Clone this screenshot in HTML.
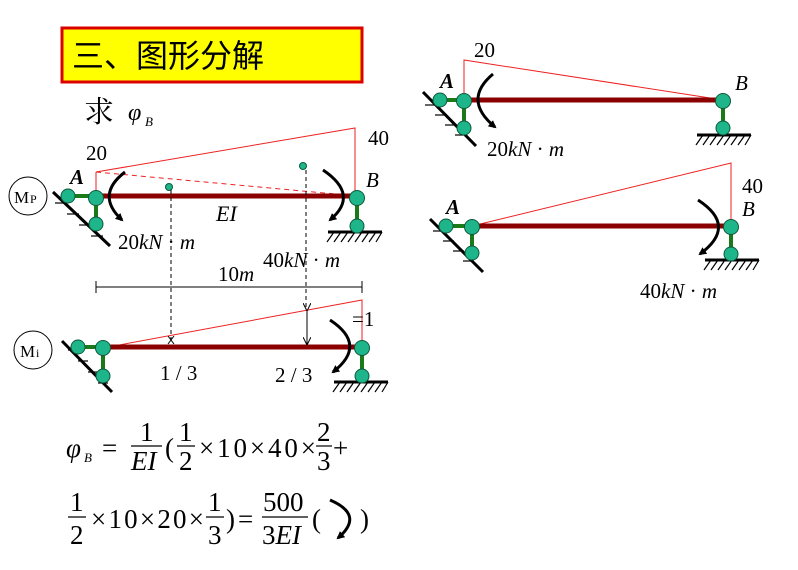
<!DOCTYPE html>
<html><head><meta charset="utf-8"><style>
html,body{margin:0;padding:0;background:#fff;}
svg{display:block;}
text{font-family:"Liberation Serif","Noto Serif CJK SC",serif;fill:#000;}
</style></head><body>
<svg width="798" height="570" viewBox="0 0 798 570" xmlns="http://www.w3.org/2000/svg">
<defs>
<marker id="ah" markerWidth="8" markerHeight="8" refX="6" refY="4" orient="auto" markerUnits="userSpaceOnUse"><path d="M0,0 L8,4 L0,8 Z" fill="#000"/></marker>
<marker id="sa" markerWidth="8" markerHeight="8" refX="7" refY="4" orient="auto" markerUnits="userSpaceOnUse"><path d="M0,0 L8,4 L0,8" fill="none" stroke="#000" stroke-width="1"/></marker>
</defs>
<!-- title -->
<rect x="62" y="28" width="300" height="54" fill="#ffff00" stroke="#d00" stroke-width="3"/>
<text x="72" y="67" font-size="32" style="font-family:'Noto Sans CJK SC',sans-serif">三、图形分解</text>
<text x="84" y="122" font-size="30" style="font-family:'Noto Serif CJK SC',serif">求</text>
<text x="128" y="120" font-size="24" font-style="italic">φ</text><text x="145" y="126" font-size="13" font-style="italic">B</text>

<!-- MP diagram -->
<circle cx="28" cy="196" r="19" fill="none" stroke="#000" stroke-width="1"/>
<text x="14" y="203" font-size="17">M</text><text x="30" y="203" font-size="12">P</text>
<polyline points="96,172 355,128 355,196" fill="none" stroke="#e22" stroke-width="1"/>
<line x1="96" y1="196" x2="96" y2="172" stroke="#e22" stroke-width="1"/>
<line x1="96" y1="172" x2="357" y2="196" stroke="#e22" stroke-width="1" stroke-dasharray="5,4"/>
<line x1="53" y1="192" x2="110" y2="246" stroke="#000" stroke-width="3"/>
<g stroke="#000" stroke-width="1.2"><line x1="55" y1="203" x2="67" y2="203"/><line x1="67" y1="214" x2="79" y2="214"/><line x1="79" y1="225" x2="91" y2="225"/><line x1="91" y1="236" x2="103" y2="236"/></g>
<line x1="68" y1="196" x2="96" y2="196" stroke="#1a7a1a" stroke-width="4"/>
<line x1="96" y1="196" x2="96" y2="224" stroke="#1a7a1a" stroke-width="4"/>
<line x1="96" y1="196" x2="357" y2="196" stroke="#8b0000" stroke-width="5"/>
<line x1="357" y1="196" x2="357" y2="224" stroke="#1a7a1a" stroke-width="4"/>
<line x1="328" y1="232" x2="382" y2="232" stroke="#000" stroke-width="3"/>
<g stroke="#000" stroke-width="1.2"><line x1="334" y1="232" x2="327" y2="242"/><line x1="341" y1="232" x2="334" y2="242"/><line x1="348" y1="232" x2="341" y2="242"/><line x1="355" y1="232" x2="348" y2="242"/><line x1="362" y1="232" x2="355" y2="242"/><line x1="369" y1="232" x2="362" y2="242"/><line x1="376" y1="232" x2="369" y2="242"/><line x1="382" y1="232" x2="376" y2="242"/></g>
<g fill="#1fb58a" stroke="#0a5a3a" stroke-width="1"><circle cx="68" cy="196" r="7"/><circle cx="96" cy="198" r="7.5"/><circle cx="96" cy="224" r="7"/><circle cx="357" cy="198" r="7.5"/><circle cx="357" cy="226" r="7"/><circle cx="169" cy="187" r="3.5"/><circle cx="303" cy="166" r="3.5"/></g>
<path d="M125,172 Q95,195 122,220" fill="none" stroke="#000" stroke-width="3" marker-end="url(#ah)"/>
<path d="M323,170 Q360,195 330,220" fill="none" stroke="#000" stroke-width="3" marker-end="url(#ah)"/>
<g stroke="#000" stroke-width="1" stroke-dasharray="4,3"><line x1="171" y1="190" x2="171" y2="340"/><line x1="306" y1="170" x2="306" y2="308"/></g>
<text x="86" y="160" font-size="21">20</text>
<text x="368" y="145" font-size="21">40</text>
<text x="70" y="184" font-size="21" font-style="italic" font-weight="bold">A</text>
<text x="366" y="187" font-size="21" font-style="italic">B</text>
<text x="216" y="221" font-size="22" font-style="italic">EI</text>
<text x="118" y="249" font-size="21">20<tspan font-style="italic">kN</tspan> · <tspan font-style="italic">m</tspan></text>
<text x="263" y="267" font-size="21">40<tspan font-style="italic">kN</tspan> · <tspan font-style="italic">m</tspan></text>
<text x="218" y="281" font-size="21">10<tspan font-style="italic">m</tspan></text>
<line x1="96" y1="287" x2="362" y2="287" stroke="#000" stroke-width="1"/>
<line x1="96" y1="281" x2="96" y2="293" stroke="#000" stroke-width="1"/>
<line x1="362" y1="281" x2="362" y2="293" stroke="#000" stroke-width="1"/>

<!-- Mi diagram -->
<circle cx="33" cy="350" r="19" fill="none" stroke="#000" stroke-width="1"/>
<text x="20" y="357" font-size="17">M</text><text x="36" y="357" font-size="12">i</text>
<polyline points="103,348 362,300 362,348" fill="none" stroke="#e22" stroke-width="1"/>
<line x1="62" y1="341" x2="112" y2="392" stroke="#000" stroke-width="3"/>
<g stroke="#000" stroke-width="1.2"><line x1="68" y1="350" x2="78" y2="350"/><line x1="78" y1="361" x2="88" y2="361"/><line x1="88" y1="372" x2="98" y2="372"/><line x1="98" y1="383" x2="108" y2="383"/></g>
<line x1="78" y1="347" x2="103" y2="347" stroke="#1a7a1a" stroke-width="4"/>
<line x1="103" y1="347" x2="103" y2="375" stroke="#1a7a1a" stroke-width="4"/>
<line x1="103" y1="347" x2="362" y2="347" stroke="#8b0000" stroke-width="5"/>
<line x1="362" y1="347" x2="362" y2="375" stroke="#1a7a1a" stroke-width="4"/>
<line x1="334" y1="382" x2="388" y2="382" stroke="#000" stroke-width="3"/>
<g stroke="#000" stroke-width="1.2"><line x1="340" y1="382" x2="333" y2="392"/><line x1="347" y1="382" x2="340" y2="392"/><line x1="354" y1="382" x2="347" y2="392"/><line x1="361" y1="382" x2="354" y2="392"/><line x1="368" y1="382" x2="361" y2="392"/><line x1="375" y1="382" x2="368" y2="392"/><line x1="382" y1="382" x2="375" y2="392"/><line x1="388" y1="382" x2="382" y2="392"/></g>
<g fill="#1fb58a" stroke="#0a5a3a" stroke-width="1"><circle cx="78" cy="347" r="7"/><circle cx="103" cy="348" r="7.5"/><circle cx="103" cy="376" r="7"/><circle cx="362" cy="348" r="7.5"/><circle cx="362" cy="376" r="7"/></g>
<path d="M330,320 Q368,345 333,372" fill="none" stroke="#000" stroke-width="3" marker-end="url(#ah)"/>
<line x1="307" y1="310" x2="307" y2="344" stroke="#000" stroke-width="1" marker-start="url(#sa)" marker-end="url(#sa)"/>
<path d="M168,336 L171,340 L168,344 M174,336 L171,340 L174,344" fill="none" stroke="#000" stroke-width="1"/>
<text x="352" y="326" font-size="21">=1</text>
<text x="160" y="380" font-size="21">1 / 3</text>
<text x="275" y="382" font-size="21">2 / 3</text>

<!-- right top -->
<polyline points="464,98 464,60 723,100" fill="none" stroke="#e22" stroke-width="1"/>
<line x1="423" y1="92" x2="476" y2="146" stroke="#000" stroke-width="3"/>
<g stroke="#000" stroke-width="1.2"><line x1="425" y1="105" x2="437" y2="105"/><line x1="435" y1="115" x2="447" y2="115"/><line x1="445" y1="125" x2="457" y2="125"/><line x1="455" y1="135" x2="467" y2="135"/></g>
<line x1="440" y1="100" x2="464" y2="100" stroke="#1a7a1a" stroke-width="4"/>
<line x1="464" y1="100" x2="464" y2="128" stroke="#1a7a1a" stroke-width="4"/>
<line x1="464" y1="100" x2="723" y2="100" stroke="#8b0000" stroke-width="5"/>
<line x1="723" y1="100" x2="723" y2="128" stroke="#1a7a1a" stroke-width="4"/>
<line x1="697" y1="135" x2="751" y2="135" stroke="#000" stroke-width="3"/>
<g stroke="#000" stroke-width="1.2"><line x1="703" y1="135" x2="696" y2="145"/><line x1="710" y1="135" x2="703" y2="145"/><line x1="717" y1="135" x2="710" y2="145"/><line x1="724" y1="135" x2="717" y2="145"/><line x1="731" y1="135" x2="724" y2="145"/><line x1="738" y1="135" x2="731" y2="145"/><line x1="745" y1="135" x2="738" y2="145"/><line x1="751" y1="135" x2="745" y2="145"/></g>
<g fill="#1fb58a" stroke="#0a5a3a" stroke-width="1"><circle cx="440" cy="100" r="7"/><circle cx="464" cy="101" r="7.5"/><circle cx="464" cy="128" r="7"/><circle cx="723" cy="101" r="7.5"/><circle cx="723" cy="128" r="7"/></g>
<path d="M493,74 Q462,100 495,127" fill="none" stroke="#000" stroke-width="3" marker-end="url(#ah)"/>
<text x="474" y="57" font-size="21">20</text>
<text x="440" y="88" font-size="21" font-style="italic" font-weight="bold">A</text>
<text x="735" y="90" font-size="21" font-style="italic">B</text>
<text x="487" y="156" font-size="21">20<tspan font-style="italic">kN</tspan> · <tspan font-style="italic">m</tspan></text>

<!-- right bottom -->
<polyline points="472,226 731,163 731,226" fill="none" stroke="#e22" stroke-width="1"/>
<line x1="430" y1="219" x2="483" y2="272" stroke="#000" stroke-width="3"/>
<g stroke="#000" stroke-width="1.2"><line x1="433" y1="231" x2="444" y2="231"/><line x1="443" y1="241" x2="454" y2="241"/><line x1="453" y1="251" x2="464" y2="251"/><line x1="463" y1="261" x2="474" y2="261"/></g>
<line x1="446" y1="226" x2="472" y2="226" stroke="#1a7a1a" stroke-width="4"/>
<line x1="472" y1="226" x2="472" y2="253" stroke="#1a7a1a" stroke-width="4"/>
<line x1="472" y1="226" x2="731" y2="226" stroke="#8b0000" stroke-width="5"/>
<line x1="731" y1="226" x2="731" y2="254" stroke="#1a7a1a" stroke-width="4"/>
<line x1="705" y1="260" x2="759" y2="260" stroke="#000" stroke-width="3"/>
<g stroke="#000" stroke-width="1.2"><line x1="711" y1="260" x2="704" y2="270"/><line x1="718" y1="260" x2="711" y2="270"/><line x1="725" y1="260" x2="718" y2="270"/><line x1="732" y1="260" x2="725" y2="270"/><line x1="739" y1="260" x2="732" y2="270"/><line x1="746" y1="260" x2="739" y2="270"/><line x1="753" y1="260" x2="746" y2="270"/><line x1="759" y1="260" x2="753" y2="270"/></g>
<g fill="#1fb58a" stroke="#0a5a3a" stroke-width="1"><circle cx="446" cy="226" r="7"/><circle cx="472" cy="227" r="7.5"/><circle cx="472" cy="253" r="7"/><circle cx="731" cy="227" r="7.5"/><circle cx="731" cy="254" r="7"/></g>
<path d="M698,200 Q738,226 700,254" fill="none" stroke="#000" stroke-width="3" marker-end="url(#ah)"/>
<text x="742" y="193" font-size="21">40</text>
<text x="742" y="216" font-size="21" font-style="italic">B</text>
<text x="446" y="214" font-size="21" font-style="italic" font-weight="bold">A</text>
<text x="640" y="298" font-size="21">40<tspan font-style="italic">kN</tspan> · <tspan font-style="italic">m</tspan></text>

<!-- formula -->
<g font-size="27">
<text x="66" y="457" font-style="italic">φ</text><text x="84" y="462" font-size="13" font-style="italic">B</text>
<text x="102" y="457">=</text>
<text x="140" y="441">1</text><line x1="131" y1="446" x2="162" y2="446" stroke="#000" stroke-width="1.2"/><text x="131" y="470" font-style="italic">EI</text>
<text x="165" y="457">(</text>
<text x="179" y="441">1</text><line x1="177" y1="446" x2="195" y2="446" stroke="#000" stroke-width="1.2"/><text x="179" y="470">2</text>
<text x="199" y="457" textLength="117" lengthAdjust="spacing">×10×40×</text>
<text x="317" y="441">2</text><line x1="316" y1="446" x2="332" y2="446" stroke="#000" stroke-width="1.2"/><text x="317" y="470">3</text>
<text x="333" y="457">+</text>
<text x="70" y="511">1</text><line x1="68" y1="517" x2="86" y2="517" stroke="#000" stroke-width="1.2"/><text x="70" y="544">2</text>
<text x="91" y="528" textLength="113" lengthAdjust="spacing">×10×20×</text>
<text x="208" y="511">1</text><line x1="206" y1="517" x2="224" y2="517" stroke="#000" stroke-width="1.2"/><text x="208" y="544">3</text>
<text x="226" y="528">)</text>
<text x="238" y="528">=</text>
<text x="263" y="511">500</text><line x1="262" y1="517" x2="308" y2="517" stroke="#000" stroke-width="1.2"/><text x="262" y="544">3<tspan font-style="italic">EI</tspan></text>
<text x="312" y="528">(</text>
<path d="M330,500 Q365,515 338,538" fill="none" stroke="#000" stroke-width="3" marker-end="url(#ah)"/>
<text x="360" y="528">)</text>
</g>
</svg>
</body></html>
